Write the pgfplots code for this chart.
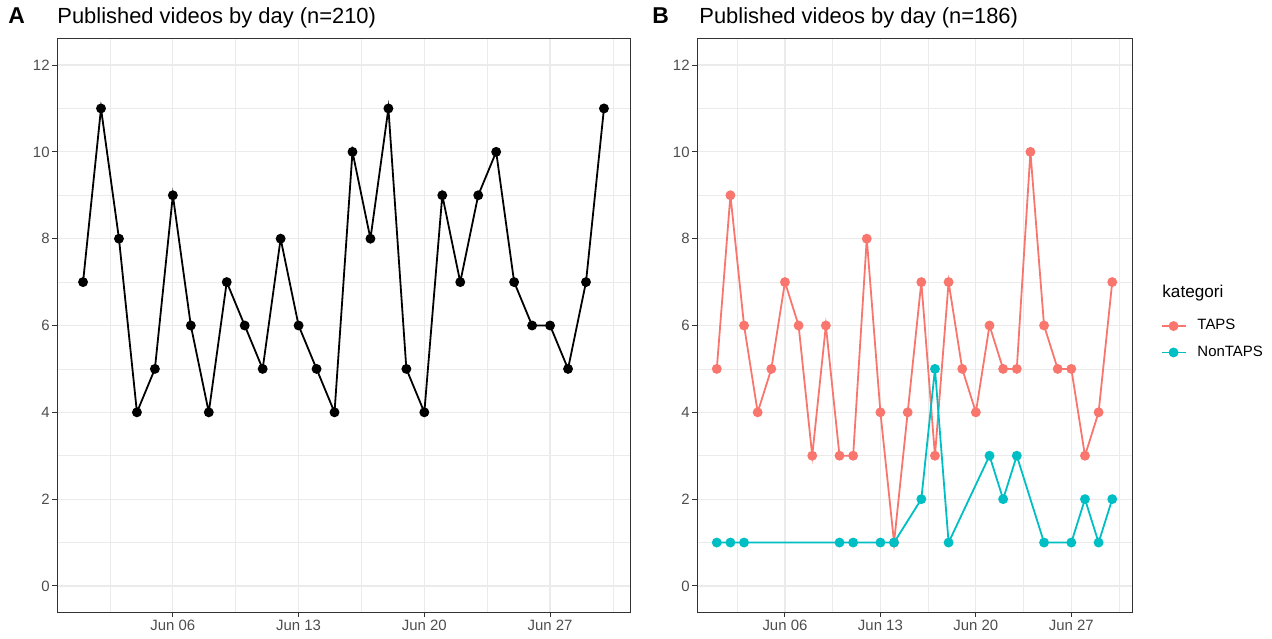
\documentclass[border=0pt]{standalone}
\usepackage{fontspec}
\setmainfont{Liberation Sans}
\usepackage{pgfplots}
\pgfplotsset{compat=1.18}
\definecolor{taps}{HTML}{F8766D}
\definecolor{nontaps}{HTML}{00BFC4}
\definecolor{gridc}{HTML}{EBEBEB}
\definecolor{border}{HTML}{333333}
\definecolor{ticklab}{HTML}{4D4D4D}
\pgfplotsset{ggstyle/.style={
  scale only axis,
  xmin=-0.45, xmax=31.45, ymin=-0.6, ymax=12.6,
  xtick={6,13,20,27}, xticklabels={Jun 06,Jun 13,Jun 20,Jun 27},
  minor xtick={2.5,9.5,16.5,23.5,30.5},
  ytick={0,2,...,12}, minor ytick={1,3,...,11},
  grid=both,
  major grid style={gridc, line width=0.6bp},
  minor grid style={gridc, line width=0.35bp},
  axis line style={border, line width=0.5bp},
  tick style={border, line width=0.5bp},
  major tick length=2.5bp, minor tick length=0pt,
  tick align=outside, xtick pos=bottom, ytick pos=left,
  tick label style={font=\fontsize{7.5}{8.5}\selectfont, text=ticklab},
  xticklabel style={inner sep=1.2bp},
  yticklabel style={inner sep=1bp},
  /pgf/number format/assume math mode=true,
}}
\pgfplotstableread{
d n
1 7
2 11
3 8
4 4
5 5
6 9
7 6
8 4
9 7
10 6
11 5
12 8
13 6
14 5
15 4
16 10
17 8
18 11
19 5
20 4
21 9
22 7
23 9
24 10
25 7
26 6
27 6
28 5
29 7
30 11
}\alltab
\pgfplotstableread{
d n
1 5
2 9
3 6
4 4
5 5
6 7
7 6
8 3
9 6
10 3
11 3
12 8
13 4
14 1
15 4
16 7
17 3
18 7
19 5
20 4
21 6
22 5
23 5
24 10
25 6
26 5
27 5
28 3
29 4
30 7
}\tapstab
\pgfplotstableread{
d n
1 1
2 1
3 1
10 1
11 1
13 1
14 1
16 2
17 5
18 1
21 3
22 2
23 3
25 1
27 1
28 2
29 1
30 2
}\nontapstab
\begin{document}
\begin{tikzpicture}
\useasboundingbox (0,0) rectangle (636bp,319.5bp);
\begin{axis}[ggstyle, at={(28.5bp,13.5bp)}, anchor=south west, width=286.5bp, height=286.5bp]
\addplot[black, line width=0.9bp, mark=*, mark size=2bp] table[x=d,y=n]{\alltab};
\end{axis}
\begin{axis}[ggstyle, at={(348.5bp,13.5bp)}, anchor=south west, width=217.5bp, height=286.5bp,
  legend style={draw=none, fill=none, at={(1.065,0.476)}, anchor=west,
    font=\fontsize{7.5}{8.5}\selectfont, row sep=3.5bp, column sep=4bp, inner sep=0pt,
    nodes={inner sep=1.5bp}},
  legend image code/.code={%
    \draw[#1, line width=0.9bp] (0bp,0bp) -- (12bp,0bp);
    \fill[#1] (6bp,0bp) circle (2bp);},
  legend cell align=left]
\addplot[taps, line width=0.9bp, mark=*, mark size=2bp] table[x=d,y=n]{\tapstab};
\addlegendentry{TAPS}
\addplot[nontaps, line width=0.9bp, mark=*, mark size=2bp] table[x=d,y=n]{\nontapstab};
\addlegendentry{NonTAPS}
\end{axis}
\node[anchor=base west, inner sep=0pt, font=\bfseries\fontsize{11.5}{13}\selectfont] at (4bp,307.5bp) {A};
\node[anchor=base west, inner sep=0pt, font=\fontsize{11}{13}\selectfont] at (28.5bp,307.5bp) {Published videos by day (n=210)};
\node[anchor=base west, inner sep=0pt, font=\bfseries\fontsize{11.5}{13}\selectfont] at (326bp,307.5bp) {B};
\node[anchor=base west, inner sep=0pt, font=\fontsize{11}{13}\selectfont] at (349.5bp,307.5bp) {Published videos by day (n=186)};
\node[anchor=base west, inner sep=0pt, font=\fontsize{8.6}{10}\selectfont] at (581bp,170.5bp) {kategori};
\end{tikzpicture}
\end{document}
